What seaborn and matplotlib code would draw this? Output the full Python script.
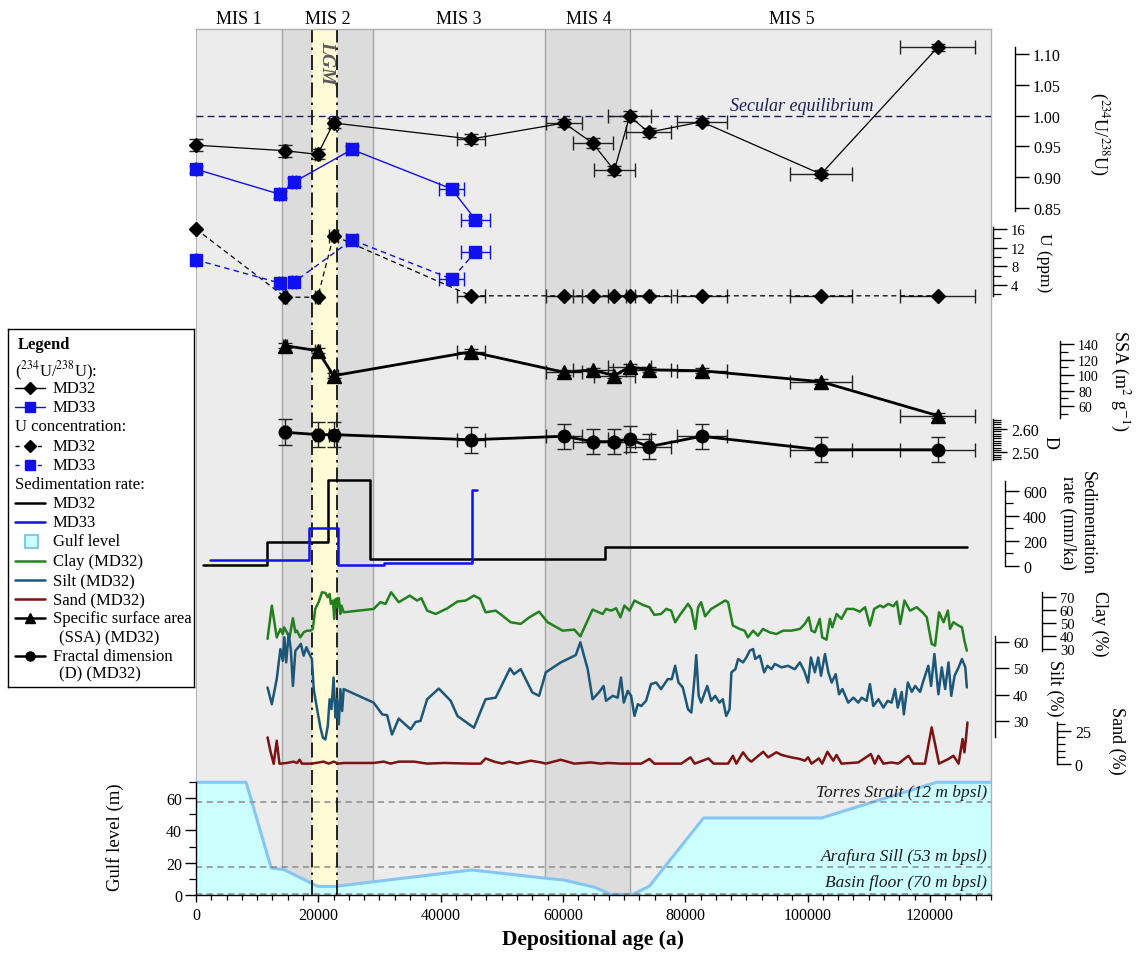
import matplotlib
matplotlib.use("Agg")
import matplotlib.pyplot as plt
import matplotlib.transforms as mtransforms
import matplotlib.ticker as mticker
from matplotlib.patches import Rectangle
import seaborn as sns

sns.set_theme(style="ticks")
plt.rcParams["font.family"] = ["Liberation Serif", "DejaVu Serif"]
plt.rcParams["mathtext.fontset"] = "stix"
plt.rcParams["axes.unicode_minus"] = False
for key in ("text.color", "xtick.color", "ytick.color", "axes.edgecolor", "axes.labelcolor"):
    plt.rcParams[key] = "black"

# ---------------- data ----------------
# MD32 dated samples: (234U/238U) activity ratio and U concentration
md32_age = [0, 14600, 19900, 22500, 45000, 60200, 64900, 68400, 70900, 74000, 82700, 102200, 121300]
md32_age_err = [0, 300, 400, 800, 2300, 2900, 3300, 3400, 3500, 3700, 4100, 5000, 6100]
md32_ratio = [0.952, 0.943, 0.937, 0.988, 0.962, 0.988, 0.955, 0.911, 0.999, 0.973, 0.990, 0.905, 1.111]
md32_ratio_err = [0.010, 0.010, 0.008, 0.008, 0.008, 0.007, 0.008, 0.008, 0.008, 0.007, 0.006, 0.006, 0.006]
md32_u = [16.0, 1.4, 1.4, 14.6, 1.7, 1.7, 1.7, 1.7, 1.7, 1.7, 1.7, 1.7, 1.7]

# MD33 dated samples
md33_age = [0, 13800, 16000, 25500, 41800, 45700]
md33_age_err = [0, 300, 300, 900, 2000, 2300]
md33_ratio = [0.913, 0.872, 0.892, 0.945, 0.881, 0.831]
md33_ratio_err = [0.006, 0.006, 0.006, 0.006, 0.006, 0.006]
md33_u = [9.4, 4.4, 4.6, 13.7, 5.3, 11.1]

# MD32 specific surface area and fractal dimension
grain_age = [14600, 19900, 22500, 45000, 60200, 64900, 68400, 70900, 74000, 82700, 102200, 121300]
grain_age_err = [300, 400, 800, 2300, 2900, 3300, 3400, 3500, 3700, 4100, 5000, 6100]
ssa = [137.8, 131.4, 99.1, 130.0, 103.5, 106.5, 99.1, 110.7, 106.8, 105.5, 91.4, 47.5]
ssa_err = [3, 3, 3, 3, 3, 3, 3, 3, 3, 3, 3, 3]
fractal_d = [2.586, 2.576, 2.576, 2.554, 2.569, 2.546, 2.546, 2.557, 2.524, 2.569, 2.511, 2.511]
fractal_d_err = [0.055, 0.055, 0.055, 0.055, 0.054, 0.054, 0.054, 0.054, 0.054, 0.054, 0.054, 0.054]

# sedimentation rate (step edges and rates, mm/ka)
sed_md32_edges = [1100, 11600, 21600, 28400, 66800, 126000]
sed_md32_rate = [5, 187, 686, 53, 152]
sed_md33_edges = [2300, 18400, 23200, 30800, 45200, 46000]
sed_md33_rate = [48, 301, 2, 22, 608]

# MD32 grain size (%)
clay_age = [11700, 12400, 13200, 13800, 14200, 14400, 15000, 15300, 15850, 16250, 16500, 17050, 17600,
            18150, 18700, 19100, 19500, 20050, 20600, 21150, 21550, 21850, 22050, 22400, 22600, 22850,
            23050, 23350, 23600, 23800, 24150, 29050, 30150, 31000, 31900, 33150, 34950, 36150, 36850,
            37800, 39200, 41100, 42750, 44100, 45450, 46450, 47350, 49000, 50100, 51450, 53100, 54500,
            56100, 57500, 59950, 61850, 62850, 64850, 66500, 67050, 67850, 68700, 69400, 70050, 70900,
            71700, 73050, 74150, 74950, 76050, 76900, 77700, 78350, 79050, 80450, 81000, 81650, 82100,
            82600, 83250, 84250, 85350, 86550, 87000, 87800, 88900, 89700, 90250, 91100, 91900, 92700,
            93800, 94900, 96000, 97350, 98750, 99550, 100200, 100650, 101200, 102000, 102400, 103100,
            103650, 104050, 104750, 105550, 106400, 107500, 108550, 109400, 110200, 110900, 111850,
            112400, 113200, 114050, 114600, 115150, 115850, 116750, 117850, 118800, 119500, 120300,
            120850, 121500, 122250, 122950, 123300, 123850, 124700, 125250, 125650, 126050]
clay_pct = [37.8, 63.6, 39.0, 45.5, 41.6, 46.8, 41.6, 39.0, 53.8, 42.9, 44.2, 39.0, 42.9,
            44.2, 44.2, 45.5, 61.0, 66.2, 73.9, 73.4, 70.1, 72.6, 64.9, 67.5, 53.3, 68.8,
            62.3, 69.3, 57.1, 63.6, 58.4, 61.0, 66.2, 64.9, 73.9, 66.2, 71.3, 67.5, 69.3,
            59.7, 57.1, 61.5, 66.7, 67.5, 71.3, 68.8, 58.4, 59.7, 55.8, 50.7, 49.4, 54.5,
            58.9, 50.7, 44.2, 45.0, 39.8, 60.5, 57.1, 61.0, 59.7, 61.5, 54.5, 63.6, 59.7,
            67.5, 64.1, 62.3, 56.4, 57.1, 61.0, 59.7, 50.7, 55.8, 64.9, 61.0, 45.5, 62.3,
            66.2, 55.3, 61.0, 64.1, 67.5, 66.2, 48.1, 45.5, 44.2, 39.0, 44.2, 40.3, 45.5,
            42.9, 41.6, 44.2, 44.2, 45.5, 49.4, 54.5, 44.2, 42.9, 53.3, 39.0, 37.2,
            53.3, 46.8, 57.1, 53.3, 61.0, 61.0, 58.9, 62.3, 48.1, 61.0, 63.6,
            62.3, 64.9, 63.1, 66.7, 49.4, 67.5, 59.7, 62.3, 58.4, 54.5, 33.9,
            32.6, 58.4, 50.7, 59.7, 45.5, 50.7, 48.1, 46.8, 36.5, 28.7]

silt_age = [11700, 12400, 13200, 13800, 14200, 14450, 14750, 15150, 15500, 15850, 16250, 16750, 17150,
            17600, 18050, 18400, 18950, 19250, 19800, 20350, 20750, 21150, 21550, 21850, 22150, 22500,
            22800, 23050, 23350, 23600, 23900, 24150, 29050, 30450, 31250, 32050, 33150, 35100, 35900,
            36700, 37800, 39700, 41650, 42750, 45450, 47350, 49000, 51350, 52000, 53100, 55000, 56100,
            57200, 59650, 62100, 62850, 64050, 64850, 65950, 66650, 67050, 68150, 68950, 69500, 69950,
            70600, 71150, 71700, 72250, 72800, 73600, 74400, 75250, 76050, 77150, 77800, 78350, 78900,
            79600, 80450, 81000, 81550, 81800, 82200, 82600, 83600, 84250, 84900, 85600, 86150, 86700,
            87250, 87550, 88200, 88650, 89450, 90000, 90550, 91100, 91450, 92200, 92900, 93450, 94100,
            94650, 95750, 96800, 97900, 98750, 99450, 100100, 100550, 101200, 101750, 102200, 102850,
            103400, 103950, 104600, 105150, 105700, 106650, 107500, 108300, 108850, 109650, 110200,
            110750, 111600, 112400, 113100, 113750, 114300, 114750, 115400, 115750, 116400, 117050,
            117600, 118400, 118950, 119750, 120200, 120750, 121400, 121950, 122500, 123050, 123500,
            124050, 124700, 125250, 125800, 126050]
silt_pct = [42.7, 36.3, 45.9, 57.4, 52.9, 61.9, 52.3, 63.2, 57.4, 43.3, 56.8, 58.1, 59.4,
            54.9, 58.1, 56.2, 53.6, 42.1, 34.4, 27.3, 23.5, 22.8, 28.0, 38.2, 34.4, 46.5,
            31.2, 38.2, 28.6, 42.1, 33.7, 42.1, 36.9, 32.4, 32.1, 24.7, 30.8, 26.7, 29.5,
            29.9, 38.2, 42.3, 37.6, 31.8, 27.3, 38.2, 38.8, 50.0, 47.8, 49.7, 40.8, 39.5,
            48.5, 52.3, 55.1, 60.0, 49.7, 38.2, 41.0, 43.3, 37.6, 39.5, 38.8, 46.5, 36.9,
            41.4, 39.5, 31.8, 36.3, 35.6, 37.6, 44.0, 44.6, 42.1, 45.9, 45.9, 51.0, 44.6,
            42.7, 34.4, 33.1, 47.2, 55.1, 39.5, 36.9, 43.3, 37.6, 39.5, 36.9, 38.2, 31.8,
            34.4, 48.5, 49.7, 53.6, 52.3, 54.2, 56.8, 57.4, 53.6, 54.9, 48.5, 51.0, 49.7,
            51.7, 50.4, 51.0, 49.7, 52.3, 49.1, 44.6, 54.2, 48.5, 54.2, 47.2, 55.5,
            48.5, 44.6, 47.8, 40.1, 42.1, 36.9, 38.8, 36.9, 38.8, 37.6, 44.0,
            35.6, 38.2, 35.0, 37.6, 36.9, 42.1, 35.0, 41.0, 32.4, 44.6, 41.0,
            43.3, 41.0, 45.3, 51.0, 43.3, 55.5, 40.1, 50.4, 42.1, 52.3, 39.5,
            47.2, 50.4, 53.6, 50.4, 42.7]

sand_age = [11700, 12150, 12700, 13200, 13650, 14850, 15950, 16500, 16950, 17300, 18150, 18950, 20850,
            21700, 22500, 23350, 24150, 29050, 30700, 31800, 33150, 35650, 37800, 40550, 44900, 46550,
            47350, 48750, 50100, 51200, 52550, 54750, 56400, 57200, 59650, 61850, 64600, 66200, 67300,
            69500, 72800, 74150, 74950, 79350, 80850, 81550, 83800, 84650, 87000, 87800, 88350, 89450,
            90250, 90800, 91650, 92750, 93550, 94900, 95750, 97350, 98750, 99550, 100100, 100650,
            101850, 102400, 103250, 104200, 104750, 105550, 108300, 110350, 111000, 111600, 112400,
            113750, 114850, 116500, 117300, 119200, 120300, 120850, 121500, 123050, 123850, 124700,
            125350, 125650, 125900, 126150]
sand_pct = [20.0, 10.0, 0.2, 17.5, 0.2, 0.8, 1.8, 0.8, 3.2, 0.3, 0.3, 0.3, 1.8,
            0.3, 1.8, 0.3, 0.8, 0.8, 1.8, 0.3, 1.8, 1.8, 0.3, 0.8, 0.3, 0.3,
            4.2, 1.8, 0.3, 1.8, 0.3, 2.5, 1.2, 0.3, 3.2, 0.3, 1.2, 0.3, 0.8,
            0.3, 0.3, 3.8, 0.3, 0.3, 5.0, 0.3, 4.2, 0.3, 0.3, 6.2, 0.3, 8.8,
            3.8, 1.8, 5.0, 9.2, 5.0, 8.8, 6.8, 5.0, 3.8, 2.5, 5.0, 0.3,
            4.2, 0.3, 9.2, 2.5, 6.8, 0.3, 1.2, 7.5, 0.3, 6.2, 0.3,
            1.2, 0.3, 6.2, 0.3, 0.3, 27.5, 15.0, 0.3, 3.8, 6.2, 0.3,
            18.8, 8.8, 18.8, 31.2]

# Gulf of Carpentaria water level above the basin floor (m)
gulf_age = [0, 8200, 12300, 14400, 19900, 22800, 45100, 57300, 60200, 65200, 67800, 71400, 74100,
            83000, 102300, 121100, 130000]
gulf_level = [70, 70, 16.6, 15.6, 5.2, 5.2, 15.4, 10.2, 9.1, 4.6, 0.2, 0.2, 5.2,
              47.8, 47.8, 70, 70]

# marine isotope stages and reference levels
mis_names = ["MIS 1", "MIS 2", "MIS 3", "MIS 4", "MIS 5"]
mis_label_age = [7000, 21500, 43000, 64200, 97500]
mis_bounds = [14000, 29000, 57000, 71000]
glacial_bands = [(14000, 29000), (57000, 71000)]
lgm_band = (19000, 23000)
sill_levels = [58, 17, 0.5]
sill_names = ["Torres Strait (12 m bpsl)", "Arafura Sill (53 m bpsl)", "Basin floor (70 m bpsl)"]
sill_text_level = [64, 24, 7.7]

# ---------------- styling ----------------
BLUE = "#1010ee"
GREEN = "#23801f"
SILT = "#1c5678"
SAND = "#7c1212"
CYAN_FILL = "#ccffff"
CYAN_EDGE = "#86c6f2"
BG = "#ececec"
BAND = "#dcdcdc"
LGM = "#fffbd6"
FRAME = "#b0b0b0"

W, H = 1143, 954
fig = plt.figure(figsize=(W / 100, H / 100), dpi=100)
X0, X1, Y0, Y1 = 196, 991, 30, 895.7
rect = [X0 / W, 1 - Y1 / H, (X1 - X0) / W, (Y1 - Y0) / H]


def fx(px):
    return (px - X0) / (X1 - X0)


def fy(py):
    return (Y1 - py) / (Y1 - Y0)


# ---- base axes: background, stage bands, gulf level ----
ax_g = fig.add_axes(rect)
ax_g.set_facecolor(BG)
for lo, hi in glacial_bands:
    ax_g.axvspan(lo, hi, color=BAND, lw=0, zorder=0.5)
ax_g.axvspan(*lgm_band, color=LGM, lw=0, zorder=0.6)
for b in mis_bounds:
    ax_g.axvline(b, color="#a4a4a4", lw=1.0, zorder=0.7)

ax_g.fill_between(gulf_age, 0, gulf_level, color=CYAN_FILL, lw=0, zorder=1.0)
sns.lineplot(x=gulf_age, y=gulf_level, ax=ax_g, color=CYAN_EDGE, lw=2.2,
             estimator=None, sort=False, legend=False, zorder=1.2)
for lvl in sill_levels:
    ax_g.axhline(lvl, color="#8a8a8a", ls=(0, (4, 3)), lw=1.1, zorder=1.3)
for lvl, name in zip(sill_text_level, sill_names):
    ax_g.text(129400, lvl, name, ha="right", va="center", fontsize=12.5,
              style="italic", color="#1a1a1a", zorder=5)
for b in lgm_band:
    ax_g.axvline(b, color="black", lw=1.2, ls=(0, (9, 3, 1.5, 3)), zorder=1.5)

ax_g.set_xlim(0, 130000)
ax_g.set_ylim(0, 865.7 / 1.606)
for s in ("top", "right"):
    ax_g.spines[s].set_color(FRAME)
    ax_g.spines[s].set_linewidth(1.0)
ax_g.spines["left"].set_bounds(0, 70)
ax_g.spines["left"].set_linewidth(1.0)
ax_g.spines["bottom"].set_linewidth(1.0)
ax_g.axvline(0, ymin=70 / (865.7 / 1.606), ymax=1, color=FRAME, lw=1.4, zorder=0.8)
ax_g.set_yticks([0, 20, 40, 60])
ax_g.set_yticks([10, 30, 50, 70], minor=True)
ax_g.set_xticks(range(0, 130001, 20000))
ax_g.xaxis.set_minor_locator(mticker.MultipleLocator(2500))
ax_g.xaxis.set_major_formatter(mticker.FuncFormatter(lambda v, p: f"{int(v)}"))
ax_g.tick_params(axis="x", which="major", direction="out", length=5, width=1, labelsize=11.5, pad=4)
ax_g.tick_params(axis="x", which="minor", direction="out", length=3.5, width=0.9)
ax_g.tick_params(axis="y", which="major", direction="out", length=8, width=1, labelsize=11.5, pad=2)
ax_g.tick_params(axis="y", which="minor", direction="out", length=5, width=0.9)
ax_g.set_xlabel("Depositional age (a)", fontsize=15.5, fontweight="bold")
ax_g.xaxis.label.set_va("center")
ax_g.xaxis.set_label_coords(fx(593), fy(940))
ax_g.set_ylabel("Gulf level (m)", fontsize=13.5)
ax_g.yaxis.label.set_va("center")
ax_g.yaxis.set_label_coords(fx(115), fy(837))

top = mtransforms.blended_transform_factory(ax_g.transData, ax_g.transAxes)
for name, x in zip(mis_names, mis_label_age):
    ax_g.text(x, fy(20), name, transform=top, ha="center", va="center", fontsize=13)
ax_g.text(21300, fy(63), "LGM", transform=top, ha="center", va="center", rotation=270,
          fontsize=14, fontweight="bold", style="italic", color="#5a5a5a", zorder=6)


def panel(ylim, spine_px, bounds, major, minor=None, size=11.5, fmt=None):
    ax = fig.add_axes(rect, sharex=ax_g)
    ax.patch.set_visible(False)
    for s in ("left", "top", "bottom"):
        ax.spines[s].set_visible(False)
    ax.spines["right"].set_position(("axes", fx(spine_px)))
    ax.spines["right"].set_bounds(*bounds)
    ax.spines["right"].set_linewidth(1.0)
    ax.set_ylim(*ylim)
    ax.yaxis.tick_right()
    ax.set_yticks(major)
    if minor:
        ax.set_yticks(minor, minor=True)
    else:
        ax.set_yticks([], minor=True)
    if fmt:
        ax.yaxis.set_major_formatter(mticker.FormatStrFormatter(fmt))
    ax.tick_params(axis="y", which="major", direction="out", length=10, width=1,
                   labelsize=size, pad=3)
    ax.tick_params(axis="y", which="minor", direction="out", length=5.5, width=0.9)
    ax.tick_params(axis="x", which="both", bottom=False, labelbottom=False)
    ax.set_xlabel("")
    return ax


def side_label(ax, text, px, py, size=13):
    ax.text(fx(px), fy(py), text, transform=ax.transAxes, rotation=270,
            ha="center", va="center", fontsize=size, multialignment="center")


def points(ax, x, y, xerr, yerr, fmt, color, ms, lw, ecolor, dashes=None, z=3):
    c = ax.errorbar(x, y, xerr=xerr, yerr=yerr, fmt=fmt, color=color, ms=ms, mfc=color,
                    mec=color, lw=lw, ecolor=ecolor, elinewidth=1.0, capsize=5,
                    capthick=1.0, zorder=z)
    if dashes:
        c[0].set_dashes(dashes)
    for art in c.get_children():
        art.set_clip_on(False)
    return c


# ---- (234U/238U) ----
ax_r = panel((-0.2648, 1.1406), 1015, (0.845, 1.111), [0.85, 0.90, 0.95, 1.00, 1.05, 1.10], fmt="%.2f")
ax_r.axhline(1.0, color="#1c1c50", ls=(0, (5, 3)), lw=1.0, zorder=1)
ax_r.text(99100, 1.017, "Secular equilibrium", ha="center", va="center", fontsize=13,
          style="italic", color="#1c1c50")
points(ax_r, md32_age, md32_ratio, md32_age_err, md32_ratio_err, "-D", "black", 7.5, 0.9, "#222222")
points(ax_r, md33_age, md33_ratio, md33_age_err, md33_ratio_err, "-s", BLUE, 8.5, 1.0, BLUE)
side_label(ax_r, r"($^{234}$U/$^{238}$U)", 1099, 134)

# ---- U concentration ----
ax_u = panel((-126.6, 58.86), 993, (1.7, 16.4), [4, 8, 12, 16], [2, 6, 10, 14], size=10.5)
points(ax_u, md32_age, md32_u, md32_age_err, None, "--D", "black", 7.5, 0.9, "#222222", dashes=(4, 3))
points(ax_u, md33_age, md33_u, md33_age_err, None, "--s", BLUE, 8.5, 1.0, BLUE, dashes=(4, 3))
side_label(ax_u, "U (ppm)", 1044, 263, size=12.5)

# ---- specific surface area ----
ax_s = panel((-570.6, 546.5), 1060, (45, 144), [60, 80, 100, 120, 140], [50, 70, 90, 110, 130], size=10)
points(ax_s, grain_age, ssa, grain_age_err, ssa_err, "-^", "black", 10, 2.0, "#222222")
side_label(ax_s, r"SSA (m$^{2}$ g$^{-1}$)", 1120, 381)

# ---- fractal dimension ----
d_minor = [2.47 + 0.01 * i for i in range(18)]
ax_d = panel((0.6013, 4.317), 993, (2.465, 2.645), [2.50, 2.60], d_minor, fmt="%.2f")
points(ax_d, grain_age, fractal_d, grain_age_err, fractal_d_err, "-o", "black", 9, 2.0, "#222222")
side_label(ax_d, "D", 1050, 443)

# ---- sedimentation rate ----
ax_sr = panel((-2632, 4293.6), 1005, (0, 680), [0, 200, 400, 600], [100, 300, 500])
ax_sr.step(sed_md32_edges, sed_md32_rate + [sed_md32_rate[-1]], where="post", color="black", lw=1.8)
ax_sr.step(sed_md33_edges, sed_md33_rate + [sed_md33_rate[-1]], where="post", color=BLUE, lw=1.8)
side_label(ax_sr, "Sedimentation\nrate (mm/ka)", 1077, 523)

# ---- grain size fractions ----
ax_c = panel((-160.1, 509.7), 1041.7, (28.7, 74.4), [30, 40, 50, 60, 70], size=10.5)
sns.lineplot(x=clay_age, y=clay_pct, ax=ax_c, color=GREEN, lw=1.8, estimator=None, sort=False, legend=False)
side_label(ax_c, "Clay (%)", 1100, 624)

ax_si = panel((-36.6, 294.7), 995, (23.6, 62.5), [30, 40, 50, 60], size=11)
sns.lineplot(x=silt_age, y=silt_pct, ax=ax_si, color=SILT, lw=1.8, estimator=None, sort=False, legend=False)
side_label(ax_si, "Silt (%)", 1055, 688)

ax_sa = panel((-98.1, 551.8), 1056.7, (0, 31.5), [0, 25], [5, 10, 15, 20, 30])
sns.lineplot(x=sand_age, y=sand_pct, ax=ax_sa, color=SAND, lw=1.8, estimator=None, sort=False, legend=False)
side_label(ax_sa, "Sand (%)", 1117, 741)

for ax in (ax_r, ax_u, ax_s, ax_d, ax_sr, ax_c, ax_si, ax_sa):
    ax.set_ylabel("")
    ax.set_xlabel("")
ax_g.set_xlim(0, 130000)

# ---- legend box ----
LX0, LY0, LW, LH = 8, 330, 186, 358
ax_l = fig.add_axes([LX0 / W, 1 - (LY0 + LH) / H, LW / W, LH / H])
ax_l.set_xlim(0, LW)
ax_l.set_ylim(LH, 0)
ax_l.set_xticks([])
ax_l.set_yticks([])
ax_l.set_facecolor("white")
for s in ax_l.spines.values():
    s.set_color("black")
    s.set_linewidth(1.0)

FS = 12
TX = 45
ax_l.text(10, 15, "Legend", fontsize=FS, fontweight="bold", va="center")
headers = [(r"($^{234}$U/$^{238}$U):", 41), ("U concentration:", 96.7), ("Sedimentation rate:", 155)]
for txt, y in headers:
    ax_l.text(7, y, txt, fontsize=FS, va="center")

entries = [
    ("MD32", 59, "black", "-", "D", 6),
    ("MD33", 77.7, BLUE, "-", "s", 6.5),
    ("MD32", 116.7, "black", "--", "D", 6),
    ("MD33", 135.7, BLUE, "--", "s", 6.5),
    ("MD32", 174, "black", "-", None, 0),
    ("MD33", 193.3, BLUE, "-", None, 0),
    ("Clay (MD32)", 231.7, GREEN, "-", None, 0),
    ("Silt (MD32)", 251, SILT, "-", None, 0),
    ("Sand (MD32)", 270, SAND, "-", None, 0),
    ("Specific surface area", 289, "black", "-", "^", 7.5),
    ("Fractal dimension", 327.3, "black", "-", "o", 6.5),
]
for txt, y, col, ls, mk, ms in entries:
    if ls == "--":
        ax_l.plot([7, 37], [y, y], color=col, lw=1.0, dashes=(3, 5))
    else:
        ax_l.plot([7, 37], [y, y], color=col, lw=1.8 if mk in (None, "^", "o") else 1.0)
    if mk:
        ax_l.plot([22], [y], marker=mk, ms=ms, color=col, mfc=col, mec=col, ls="none")
    ax_l.text(TX, y, txt, fontsize=FS, va="center")
ax_l.text(TX + 6, 308.3, "(SSA) (MD32)", fontsize=FS, va="center")
ax_l.text(TX + 6, 344, "(D) (MD32)", fontsize=FS, va="center")
ax_l.add_patch(Rectangle((17, 206), 13, 13, facecolor=CYAN_FILL, edgecolor=CYAN_EDGE, lw=1.5))
ax_l.text(TX, 212.3, "Gulf level", fontsize=FS, va="center")

fig.savefig("out.png", dpi=100)
